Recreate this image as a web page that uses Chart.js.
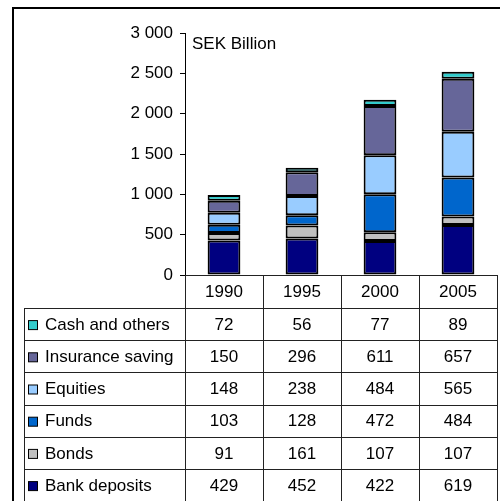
<!DOCTYPE html>
<html>
<head>
<meta charset="utf-8">
<script src="https://cdn.jsdelivr.net/npm/chart.js@4"></script>
<style>
  body { margin: 0; background: #fff; }
  canvas { display: block; }
</style>
</head>
<body>
<canvas id="savings" width="500" height="501"></canvas>
<script>
// data
const years = ['1990', '1995', '2000', '2005'];
const bankDeposits = [429, 452, 422, 619];
const bonds = [91, 161, 107, 107];
const funds = [103, 128, 472, 484];
const equities = [148, 238, 484, 565];
const insuranceSaving = [150, 296, 611, 657];
const cashOthers = [72, 56, 77, 89];
const yMax = 3000;
const yStep = 500;
const unitLabel = 'SEK Billion';

const FONT = '"Liberation Sans", Arial, sans-serif';

// header row + one row per series under the plot
const tableTop = 275;
const headerH = 33;
const rowH = 32.2;
const tableLeft = 24;

const tablePlugin = {
  id: 'dataTable',
  afterDraw(chart) {
    const ctx = chart.ctx;
    const xs = chart.scales.x;
    const left = xs.left, right = xs.right;
    const colW = (right - left) / years.length;
    const rows = chart.data.datasets.slice().reverse();
    const bottom = tableTop + headerH + rows.length * rowH;

    ctx.save();
    // outer frame (top + left only, rest is cut off)
    ctx.strokeStyle = '#000';
    ctx.lineWidth = 2;
    ctx.beginPath();
    ctx.moveTo(13, 520);
    ctx.lineTo(13, 8);
    ctx.lineTo(520, 8);
    ctx.stroke();

    ctx.strokeStyle = '#222';
    ctx.lineWidth = 1;
    ctx.beginPath();
    // axis line / header top
    ctx.moveTo(left, tableTop + 0.5);
    ctx.lineTo(right, tableTop + 0.5);
    // horizontal row lines
    for (let r = 0; r <= rows.length; r++) {
      const y = Math.round(tableTop + headerH + r * rowH) + 0.5;
      ctx.moveTo(tableLeft, y);
      ctx.lineTo(right, y);
    }
    // vertical lines
    ctx.moveTo(tableLeft + 0.5, tableTop + headerH);
    ctx.lineTo(tableLeft + 0.5, bottom);
    for (let c = 0; c <= years.length; c++) {
      const x = Math.round(left + c * colW) + 0.5;
      ctx.moveTo(x, tableTop);
      ctx.lineTo(x, bottom);
    }
    ctx.stroke();

    ctx.fillStyle = '#000';
    ctx.font = '17px ' + FONT;
    ctx.textBaseline = 'middle';
    ctx.textAlign = 'center';
    years.forEach((yr, i) => {
      ctx.fillText(yr, left + (i + 0.5) * colW, tableTop + headerH / 2 + 1);
    });

    rows.forEach((ds, r) => {
      const cy = tableTop + headerH + (r + 0.5) * rowH + 1;
      // legend key
      ctx.fillStyle = ds.backgroundColor;
      ctx.fillRect(28.5, cy - 4.5, 9, 9);
      ctx.strokeStyle = '#000';
      ctx.strokeRect(28.5, cy - 4.5, 9, 9);
      ctx.fillStyle = '#000';
      ctx.textAlign = 'left';
      ctx.fillText(ds.label, 45, cy);
      ctx.textAlign = 'center';
      ds.data.forEach((v, i) => {
        ctx.fillText(String(v), left + (i + 0.5) * colW, cy);
      });
    });

    // unit label in the plot
    ctx.textAlign = 'left';
    ctx.fillText(unitLabel, 192, 44);
    ctx.restore();
  }
};

const ctx = document.getElementById('savings').getContext('2d');
const mk = (label, data, color) => ({
  label: label,
  data: data,
  backgroundColor: color,
  borderColor: '#000',
  borderWidth: 2,
  borderSkipped: false,
  categoryPercentage: 1,
  barPercentage: 0.42
});

new Chart(ctx, {
  type: 'bar',
  data: {
    labels: years,
    datasets: [
      mk('Bank deposits', bankDeposits, '#000080'),
      mk('Bonds', bonds, '#C0C0C0'),
      mk('Funds', funds, '#0066CC'),
      mk('Equities', equities, '#99CCFF'),
      mk('Insurance saving', insuranceSaving, '#666699'),
      mk('Cash and others', cashOthers, '#33CCCC')
    ]
  },
  options: {
    responsive: false,
    animation: false,
    layout: { padding: { top: 33, right: 3, bottom: 226, left: 0 } },
    plugins: {
      legend: { display: false },
      tooltip: { enabled: false }
    },
    scales: {
      x: {
        stacked: true,
        display: false
      },
      y: {
        stacked: true,
        min: 0,
        max: yMax,
        afterFit: (scale) => { scale.width = 185; },
        border: { display: true, color: '#000', width: 1 },
        grid: {
          drawOnChartArea: false,
          drawTicks: true,
          tickLength: 5,
          color: '#000'
        },
        ticks: {
          stepSize: yStep,
          padding: 7,
          color: '#000',
          font: { family: FONT, size: 17 },
          callback: (v) => String(v).replace(/\B(?=(\d{3})+(?!\d))/g, ' ')
        }
      }
    }
  },
  plugins: [tablePlugin]
});
</script>
</body>
</html>
